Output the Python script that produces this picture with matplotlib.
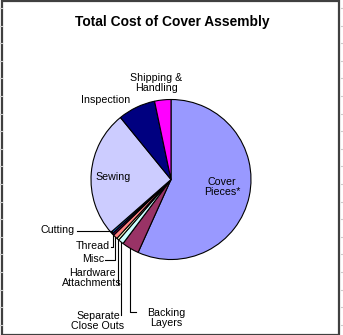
import numpy as np
import matplotlib.pyplot as plt
from matplotlib.patches import Rectangle

plt.rcParams['font.family'] = ['Liberation Sans', 'DejaVu Sans']

# slices, clockwise from 12 o'clock (percent of total cost)
names = ['Cover\nPieces*', 'Backing\nLayers', 'Separate\nClose Outs', 'Hardware\nAttachments',
         'Misc', 'Thread', 'Cutting', 'Sewing', 'Inspection', 'Shipping &\nHandling']
values = [56.8, 3.5, 1.1, 0.5, 0.9, 0.4, 0.4, 25.6, 7.6, 3.3]
colors = ['#9999FF', '#993366', '#CCFFFF', '#FFFFCC', '#FF8080', '#660066', '#0066CC',
          '#CCCCFF', '#000080', '#FF00FF']

W, H = 343, 335
fig = plt.figure(figsize=(W / 100, H / 100), dpi=100)
ax = fig.add_axes([0, 0, 1, 1])

cx, cy, r = 171, H - 179.5, 80
wedges, _ = ax.pie(values, colors=colors, startangle=90, counterclock=False,
                   center=(cx, cy), radius=r,
                   wedgeprops=dict(edgecolor='black', linewidth=0.8))
ax.set_xlim(0, W)
ax.set_ylim(0, H)
ax.set_aspect('equal')
ax.axis('off')


def py(y):
    return H - y


def anchor(i):
    w = wedges[i]
    t = np.deg2rad((w.theta1 + w.theta2) / 2)
    return cx + r * np.cos(t), cy + r * np.sin(t)


fs = 7.7
ax.text(172, py(22), 'Total Cost of Cover Assembly', ha='center', va='center',
        fontsize=9.9, fontweight='bold')

# labels inside / near big slices
ax.text(222, py(187), names[0], ha='center', va='center', fontsize=fs, linespacing=1.0)
ax.text(113, py(177), names[7], ha='center', va='center', fontsize=fs)
ax.text(106, py(100), names[8], ha='center', va='center', fontsize=fs)
ax.text(156, py(83), names[9], ha='center', va='center', fontsize=fs, linespacing=0.95)

# small slices with leader lines: (index, text x, text y, ha, line start x, line start y)
small = [
    (6, 75, 230, 'right', 77, 231),
    (5, 110, 246, 'right', 111, 247),
    (4, 104, 259, 'right', 105, 260),
    (3, 92, 278, 'center', 118, 284),
    (2, 98, 321, 'center', 121, 315),
    (1, 166, 318, 'center', 136, 312),
]
for i, tx, ty, ha, lx, ly in small:
    ax.text(tx, py(ty), names[i], ha=ha, va='center', fontsize=fs, linespacing=0.95)
    axx, ayy = anchor(i)
    ax.plot([lx, axx, axx], [py(ly), py(ly), ayy], color='black', lw=0.8)

# chart frame and sheet gridline ticks
fig.patches.append(Rectangle((2 / W, 0), 337 / W, 1 - 1 / H, transform=fig.transFigure,
                             fill=False, edgecolor='#404040', linewidth=1.6))
for k in range(19):
    yy = 1 - (8 + k * 17.6) / H
    fig.add_artist(plt.Line2D([341 / W, 1], [yy, yy], color='#cccccc', lw=0.8,
                              transform=fig.transFigure))
    fig.add_artist(plt.Line2D([0, 1.5 / W], [yy, yy], color='#cccccc', lw=0.8,
                              transform=fig.transFigure))

fig.savefig('out.png', dpi=100)
